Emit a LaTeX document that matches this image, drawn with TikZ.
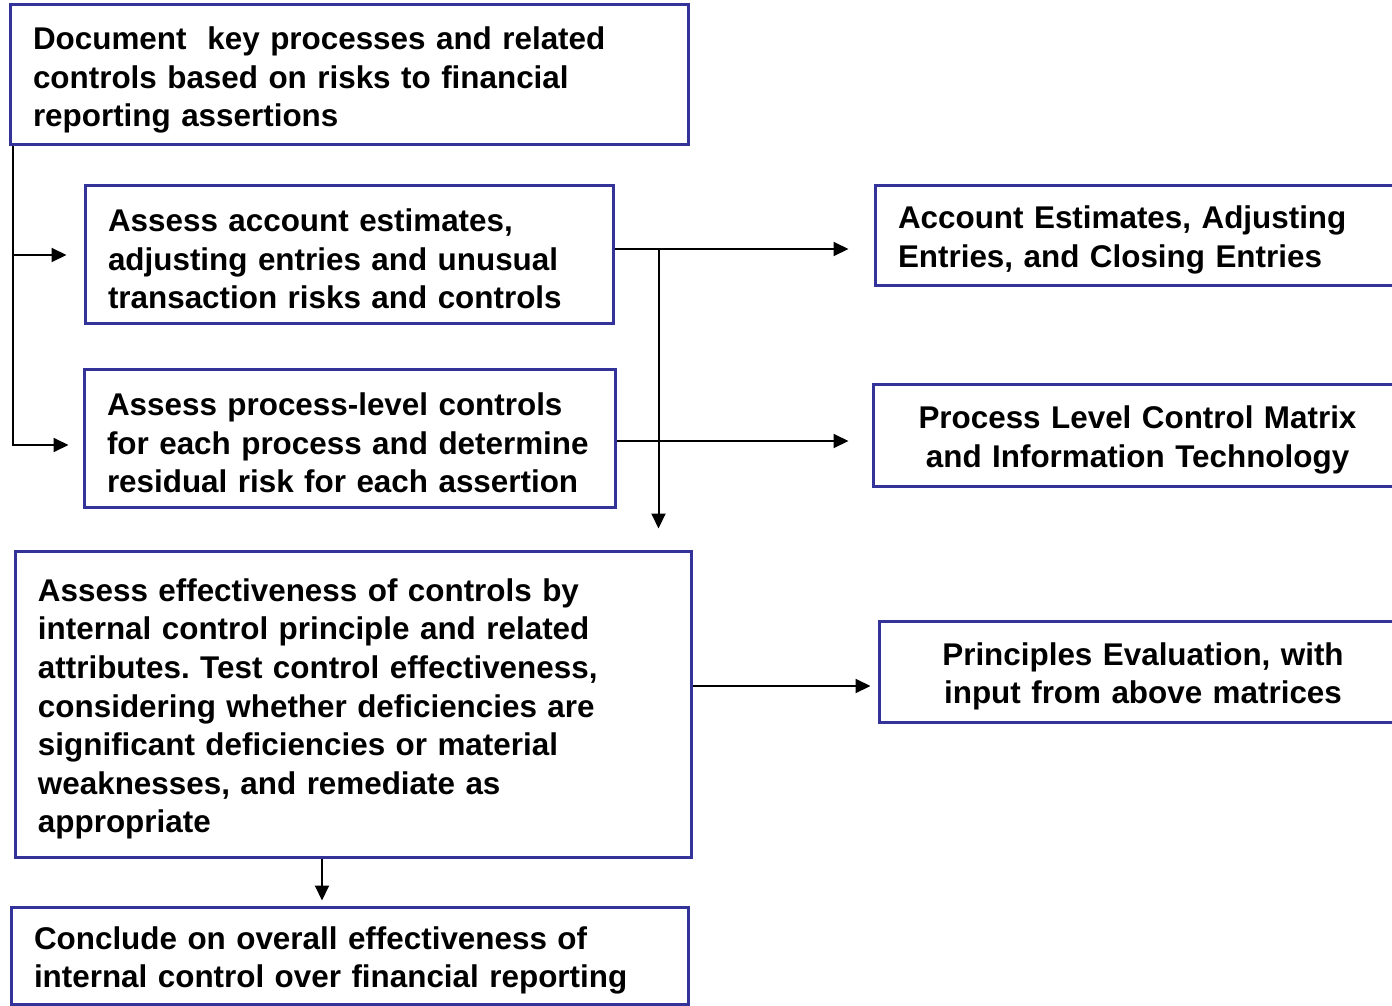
\documentclass[tikz,border=0pt]{standalone}
\usepackage{fontspec}
\setmainfont{Liberation Sans}
\usepackage{xcolor}
\usepackage{tikz}
\usetikzlibrary{arrows.meta,positioning}
\definecolor{boxblue}{RGB}{51,51,153}
\frenchspacing

\begin{document}
\begin{tikzpicture}[
  x=0.5pt, y=-0.5pt,
  block/.style={rectangle, draw=boxblue, line width=1.5pt, inner xsep=11.5pt,
    inner ysep=0pt, align=left, text height=16.4pt,
    font=\fontsize{15.7}{19.3}\selectfont\bfseries},
  arrow/.style={-{Triangle[length=7.5pt, width=7pt]}, line width=1pt}
]
  \useasboundingbox (0,0) rectangle (1392,1006);

  \node[block, text width=316pt, minimum height=70pt] (doc) at (349,75)
    {Document\ \ key processes and related\\controls based on risks to financial\\reporting assertions};
  \node[block, text width=241pt, minimum height=69pt] (est) at (349,254)
    {Assess account estimates,\\adjusting entries and unusual\\transaction risks and controls};
  \node[block, text width=242.5pt, minimum height=69pt] (proc) at (349.5,438)
    {Assess process-level controls\\for each process and determine\\residual risk for each assertion};
  \node[block, text width=315pt, minimum height=153pt] (assess) at (353,704)
    {Assess effectiveness of controls by\\internal control principle and related\\attributes. Test control effectiveness,\\considering whether deficiencies are\\significant deficiencies or material\\weaknesses, and remediate as\\appropriate};
  \node[block, text width=315.5pt, minimum height=48.5pt] (concl) at (349.5,955.5)
    {Conclude on overall effectiveness of\\internal control over financial reporting};

  \node[block, text width=247pt, minimum height=50pt] (aje) at (1145,235)
    {Account Estimates, Adjusting\\Entries, and Closing Entries};
  \node[block, align=center, text width=241.5pt, minimum height=51pt] (plcm) at (1137.5,435)
    {Process Level Control Matrix\\and Information Technology};
  \node[block, align=center, text width=241pt, minimum height=50.5pt] (pe) at (1143,671.5)
    {Principles Evaluation, with\\input from above matrices};

  \coordinate (spine) at ([shift={(4,0)}]doc.south west);
  \coordinate (split) at ([shift={(44,-5)}]est.east);

  \draw[arrow, shorten >=8.5pt] (spine) |- ([shift={(0,1)}]est.west);
  \draw[arrow, shorten >=7pt] (spine) |- ([shift={(0,7)}]proc.west);
  \draw[arrow, shorten >=12.5pt] ([shift={(0,-5)}]est.east) -- (split -| aje.west);
  \draw[arrow, shorten >=10.5pt] (split) -- (split |- assess.north);
  \draw[arrow, shorten >=11.5pt] ([shift={(0,3)}]proc.east) -- ([shift={(0,3)}]proc.east -| plcm.west);
  \draw[arrow, shorten >=3.5pt] ([shift={(0,-18)}]assess.east) -- ([shift={(0,-18)}]assess.east -| pe.west);
  \draw[arrow, shorten >=2.5pt] ([shift={(-31,0)}]assess.south) -- ([shift={(-31,0)}]assess.south |- concl.north);
\end{tikzpicture}
\end{document}
